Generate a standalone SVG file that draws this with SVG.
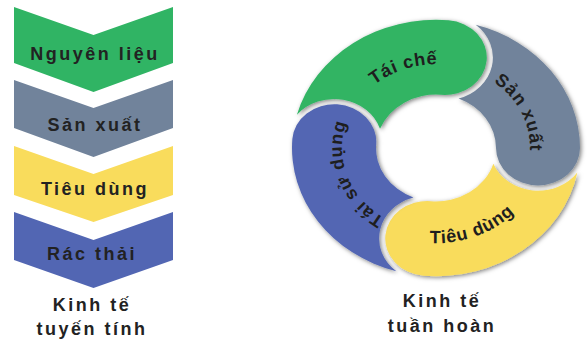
<svg xmlns="http://www.w3.org/2000/svg" xmlns:xlink="http://www.w3.org/1999/xlink" width="587" height="340" viewBox="0 0 587 340">
<style>
.lbl{font-family:"Liberation Sans",Arial,sans-serif;font-weight:bold;font-size:18px;letter-spacing:2.5px;fill:#222;text-anchor:middle}
.ct{font-family:"Liberation Sans",Arial,sans-serif;font-weight:bold;font-size:18px;letter-spacing:0.8px;fill:#1e1e1e;text-anchor:middle}
.green{fill:#30b464}.gray{fill:#71839b}.yellow{fill:#f9dc5c}.blue{fill:#5266b3}
</style>
<defs>
<filter id="sh" x="-25%" y="-25%" width="150%" height="150%">
<feDropShadow dx="1.5" dy="1.5" stdDeviation="2.2" flood-color="#000" flood-opacity="0.5"/>
</filter>
<path id="tp-green" d="M 347.12 120.76 A 94 83.66 0 0 1 481.57 74.83"/>
<path id="tp-gray" d="M 461.91 67.58 A 94 83.66 0 0 1 520.49 184.67"/>
<path id="tp-blue" d="M 402.31 226.10 A 94 83.66 0 0 1 355.43 104.91"/>
<path id="tp-yellow" d="M 387.42 232.85 A 107 95.23 0 0 0 538.32 175.84"/>
</defs>
<rect width="587" height="340" fill="#fff"/>

<g id="linear">
<g id="n-nguyen-lieu">
<polygon class="green" points="14,7 93.5,35 173,7 173,63 93.5,92 14,63"/>
<text class="lbl" x="95" y="60">Nguyên liệu</text>
</g>
<g id="n-san-xuat-l">
<polygon class="gray" points="14,80 93.5,108 173,80 173,128 93.5,157 14,128"/>
<text class="lbl" x="95" y="131">Sản xuất</text>
</g>
<g id="n-tieu-dung-l">
<polygon class="yellow" points="14,146 93.5,174 173,146 173,195 93.5,222 14,195"/>
<text class="lbl" x="95" y="195">Tiêu dùng</text>
</g>
<g id="n-rac-thai">
<polygon class="blue" points="14,212 93.5,240 173,212 173,260 93.5,288 14,260"/>
<text class="lbl" x="92" y="260">Rác thải</text>
</g>
<g id="lbl-linear">
<text class="lbl" x="92" y="311">Kinh tế</text>
<text class="lbl" x="92" y="335">tuyến tính</text>
</g>
</g>

<g id="circular">
<g id="n-tai-che">
<path class="green" filter="url(#sh)" transform="translate(436,148) scale(1,0.89)" d="M -139.09 -37.27 A 144 144 0 0 1 12.55 -143.45 A 42 42 0 0 1 5.23 -59.77 A 60 60 0 0 0 -55.98 -21.60 A 48 48 0 0 0 -139.09 -37.27 Z"/>
<text class="ct"><textPath xlink:href="#tp-green" href="#tp-green" startOffset="50%">Tái chế</textPath></text>
</g>
<g id="n-san-xuat-c">
<path class="gray" filter="url(#sh)" transform="translate(436,148) scale(1,0.89)" d="M 39.69 -138.42 A 144 144 0 0 1 144 0 A 42 42 0 0 1 60 0 A 60 60 0 0 0 22.57 -55.59 A 48 48 0 0 0 39.69 -138.42 Z"/>
<text class="ct"><textPath xlink:href="#tp-gray" href="#tp-gray" startOffset="50%">Sản xuất</textPath></text>
</g>
<g id="n-tieu-dung-c">
<path class="yellow" filter="url(#sh)" transform="translate(436,148) scale(1,0.89)" d="M 141.35 27.48 A 144 144 0 0 1 -12.55 143.45 A 42 42 0 0 1 -5.23 59.77 A 60 60 0 0 0 57.35 17.64 A 48 48 0 0 0 141.35 27.48 Z"/>
<text class="ct"><textPath xlink:href="#tp-yellow" href="#tp-yellow" startOffset="50%">Tiêu dùng</textPath></text>
</g>
<g id="n-tai-su-dung">
<path class="blue" filter="url(#sh)" transform="translate(436,148) scale(1,0.89)" d="M -39.69 138.42 A 144 144 0 0 1 -143.65 -10.05 A 42 42 0 0 1 -59.85 -4.19 A 60 60 0 0 0 -22.57 55.59 A 48 48 0 0 0 -39.69 138.42 Z"/>
<text class="ct"><textPath xlink:href="#tp-blue" href="#tp-blue" startOffset="50%">Tái sử dụng</textPath></text>
</g>
<g id="lbl-circular">
<text class="lbl" x="442" y="307">Kinh tế</text>
<text class="lbl" x="442" y="332">tuần hoàn</text>
</g>
</g>
<g id="connectors"/>
</svg>
